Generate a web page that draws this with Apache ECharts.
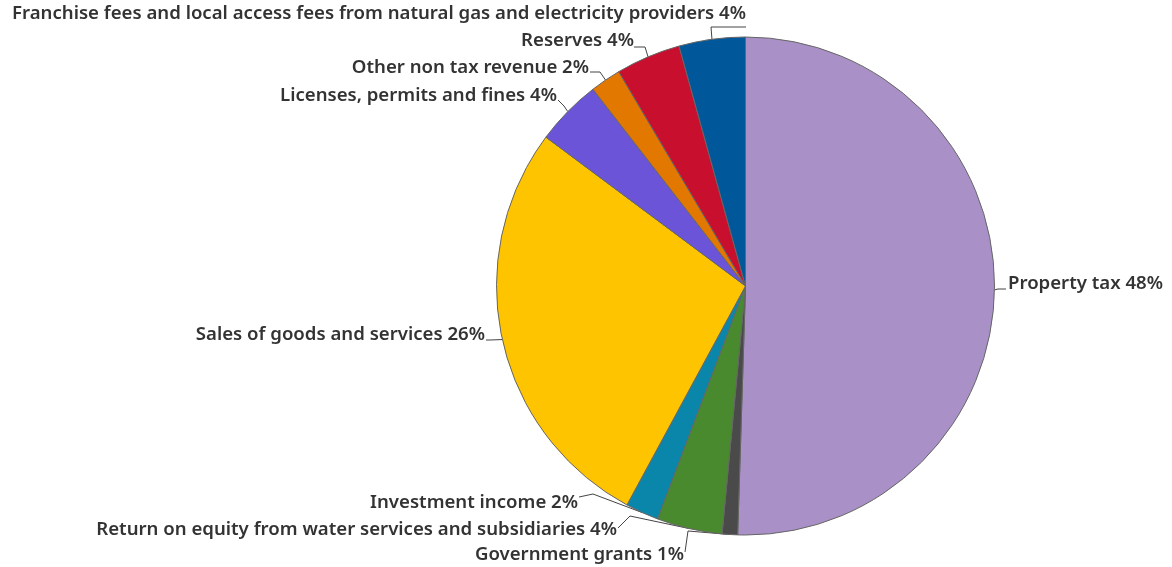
<!DOCTYPE html>
<html>
<head>
<meta charset="utf-8">
<script src="https://cdn.jsdelivr.net/npm/echarts@6/dist/echarts.min.js"></script>
<style>
html,body{margin:0;padding:0;background:#fff;}
#chart{width:1172px;height:567px;}
</style>
</head>
<body>
<div id="chart"></div>
<script>
const categories = [
  "Property tax",
  "Government grants",
  "Return on equity from water services and subsidiaries",
  "Investment income",
  "Sales of goods and services",
  "Licenses, permits and fines",
  "Other non tax revenue",
  "Reserves",
  "Franchise fees and local access fees from natural gas and electricity providers"
];
const values = [50.5, 1.0, 4.25, 2.15, 27.3, 4.3, 2.0, 4.2, 4.3];
const percentLabels = ["48%", "1%", "4%", "2%", "26%", "4%", "2%", "4%", "4%"];
const colors = ["#a991c7", "#4a4a4a", "#4a8a2e", "#0a86ab", "#ffc400", "#6c54d8", "#e37800", "#c8102e", "#00589b"];

// label anchor layout (x, y of text anchor, alignment, elbow and end of leader)
const labelPlace = [
  {x: 1008, y: 284, align: 'left',  elbow: [998, 289],  end: [1006, 289]},
  {x: 684,  y: 555, align: 'right', elbow: [688, 531],  end: [685, 552]},
  {x: 617,  y: 530, align: 'right', elbow: [630, 516],  end: [618, 528]},
  {x: 578,  y: 503, align: 'right', elbow: [593, 494],  end: [579, 497]},
  {x: 485,  y: 335, align: 'right', elbow: [490, 340],  end: [486, 340]},
  {x: 557,  y: 96,  align: 'right', elbow: [564, 106],  end: [558, 100]},
  {x: 589,  y: 68,  align: 'right', elbow: [600, 72],   end: [590, 72]},
  {x: 634,  y: 41,  align: 'right', elbow: [645, 47],   end: [634, 47]},
  {x: 746,  y: 14,  align: 'right', elbow: [711, 27],   end: [746, 27]}
];

const chart = echarts.init(document.getElementById('chart'), null, {renderer: 'canvas'});
chart.setOption({
  animation: false,
  backgroundColor: '#fff',
  series: [{
    type: 'pie',
    center: [745.5, 286],
    radius: [0, 249],
    startAngle: 90,
    clockwise: true,
    avoidLabelOverlap: false,
    data: categories.map((c, i) => ({
      name: c,
      value: values[i],
      itemStyle: {color: colors[i]}
    })),
    itemStyle: {borderColor: '#666', borderWidth: 1},
    label: {
      show: true,
      position: 'outside',
      formatter: (p) => p.name + ' ' + percentLabels[p.dataIndex],
      fontFamily: 'Noto Sans',
      fontWeight: 600,
      fontSize: 18.6,
      color: '#333'
    },
    labelLine: {show: true, lineStyle: {color: '#444', width: 1}},
    labelLayout: function (params) {
      const lp = labelPlace[params.dataIndex];
      const start = params.labelLinePoints ? params.labelLinePoints[0] : lp.elbow;
      return {
        x: lp.x,
        y: lp.y,
        align: lp.align,
        verticalAlign: 'middle',
        labelLinePoints: [start, lp.elbow, lp.end]
      };
    }
  }]
});
</script>
</body>
</html>
